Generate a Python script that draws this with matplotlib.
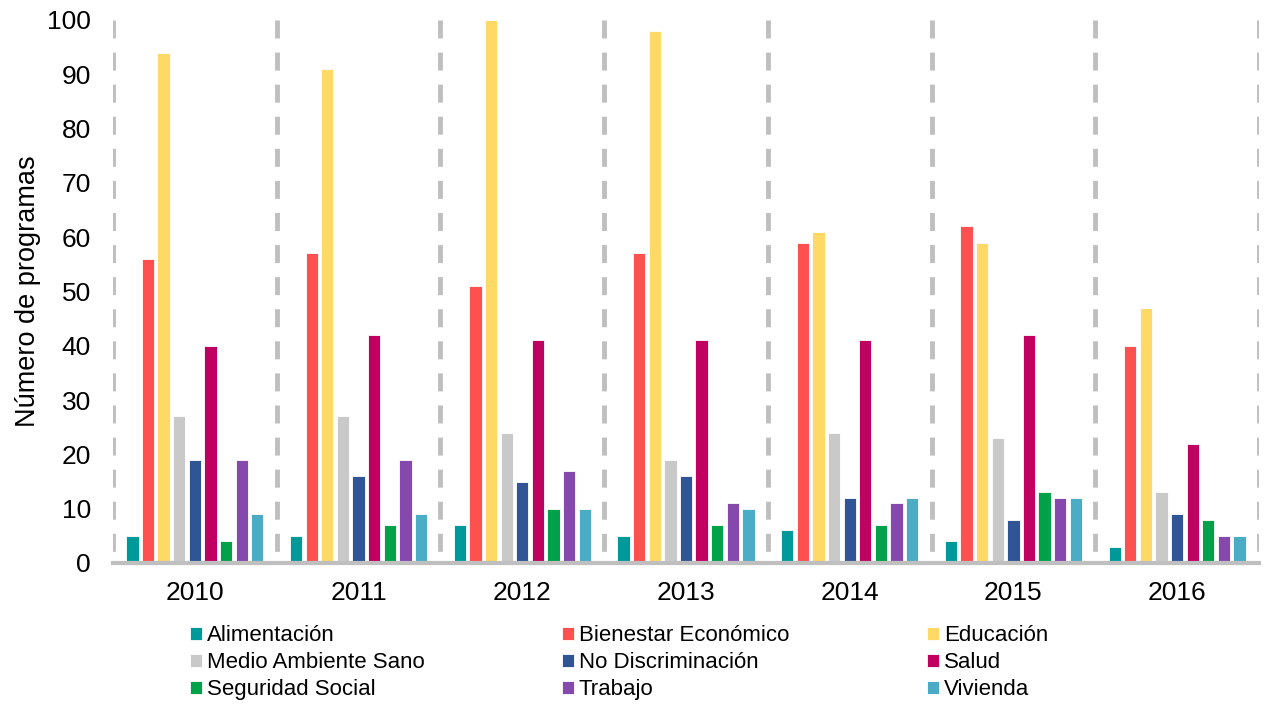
import numpy as np
import matplotlib
matplotlib.use("Agg")
import matplotlib.pyplot as plt

plt.rcParams['font.family'] = ['Liberation Sans', 'DejaVu Sans']

years = ["2010", "2011", "2012", "2013", "2014", "2015", "2016"]
series = ["Alimentación", "Bienestar Económico", "Educación",
          "Medio Ambiente Sano", "No Discriminación", "Salud",
          "Seguridad Social", "Trabajo", "Vivienda"]
colors = ["#009999", "#FF5050", "#FFD966", "#C9C9C9", "#2F5597",
          "#C00060", "#00A148", "#8549AD", "#4BACC6"]

alimentacion = [5, 5, 7, 5, 6, 4, 3]
bienestar = [56, 57, 51, 57, 59, 62, 40]
educacion = [94, 91, 100, 98, 61, 59, 47]
medio_ambiente = [27, 27, 24, 19, 24, 23, 13]
no_discriminacion = [19, 16, 15, 16, 12, 8, 9]
salud = [40, 42, 41, 41, 41, 42, 22]
seguridad = [4, 7, 10, 7, 7, 13, 8]
trabajo = [19, 19, 17, 11, 11, 12, 5]
vivienda = [9, 9, 10, 10, 12, 12, 5]
values = [alimentacion, bienestar, educacion, medio_ambiente,
          no_discriminacion, salud, seguridad, trabajo, vivienda]

fig = plt.figure(figsize=(12.68, 7.04), dpi=100)
ax = fig.add_axes([0.0891, 0.2003, 0.9038, 0.7713])

x = np.arange(len(years))
pitch = 0.0953
width = 0.075
handles = []
for i, (name, vals, c) in enumerate(zip(series, values, colors)):
    off = (i - 4) * pitch
    b = ax.bar(x + off, vals, width, color=c, edgecolor="white",
               linewidth=0.6, label=name, zorder=3)
    handles.append(b)

# dashed separators between years (drawn top -> bottom so dashes start at top)
for xv in np.arange(-0.5, len(years), 1.0):
    ax.axvline(xv, ymin=1, ymax=0, color="#BFBFBF", linewidth=3.5,
               dashes=(3.7, 2.9), zorder=1)

ax.set_xlim(-0.5, len(years) - 0.5)
ax.set_ylim(0, 100)
ax.set_yticks(range(0, 101, 10))
ax.set_xticks(x)
ax.set_xticklabels(years)
ax.tick_params(axis="both", length=0, labelsize=19)
ax.tick_params(axis="x", pad=13)
ax.tick_params(axis="y", pad=16)
for s in ["top", "right", "left"]:
    ax.spines[s].set_visible(False)
ax.spines["bottom"].set_color("#BFBFBF")
ax.spines["bottom"].set_linewidth(3)
ax.spines["bottom"].set_zorder(4)
ax.set_ylabel("Número de programas", fontsize=19.5, labelpad=4)

order = [0, 3, 6, 1, 4, 7, 2, 5, 8]
fig.legend([handles[k] for k in order], [series[k] for k in order],
           ncol=3, loc="upper left", bbox_to_anchor=(0.1498, 0.112),
           frameon=False, fontsize=16, handlelength=0.55, handleheight=0.55,
           handletextpad=0.2, labelspacing=0.27, columnspacing=6.2,
           borderpad=0, borderaxespad=0)

fig.savefig("out.png", dpi=100)
